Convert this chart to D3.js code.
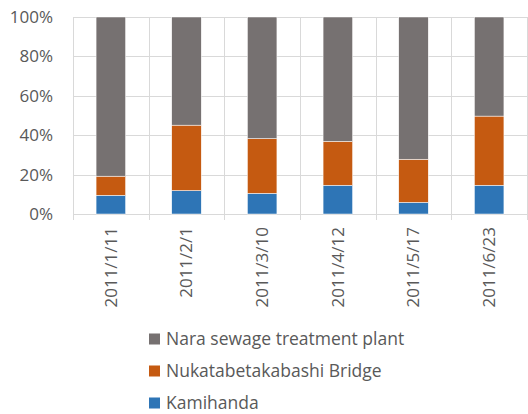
<!DOCTYPE html>
<html>
<head>
<meta charset="utf-8">
<script src="https://cdn.jsdelivr.net/npm/d3@7"></script>
<style>
  body { margin: 0; background: #fff; }
  text { font-family: "Open Sans", sans-serif; fill: #595959; }
</style>
</head>
<body>
<svg id="chart" width="528" height="414"></svg>
<script>
var dates = ["2011/1/11", "2011/2/1", "2011/3/10", "2011/4/12", "2011/5/17", "2011/6/23"];
var kamihanda = [9.5, 11.9, 10.5, 14.6, 5.9, 14.6];
var nukatabe = [9.7, 33.2, 27.8, 22.3, 21.9, 35.1];
var nara = [80.8, 54.9, 61.7, 63.1, 72.2, 50.3];
var seriesNames = ["Kamihanda", "Nukatabetakabashi Bridge", "Nara sewage treatment plant"];
var seriesColors = ["#2e75b6", "#c55a11", "#767171"];
var yTicks = [0, 0.2, 0.4, 0.6, 0.8, 1];

var svg = d3.select("#chart");
var plotLeft = 73, plotRight = 527, plotTop = 17, plotBottom = 214;

var rows = dates.map(function (d, i) {
    return { date: d, k: kamihanda[i], n: nukatabe[i], s: nara[i] };
});

var stack = d3.stack().keys(["k", "n", "s"]).offset(d3.stackOffsetExpand);
var layers = stack(rows);

var x = d3.scaleBand().domain(dates).range([plotLeft, plotRight]).paddingInner(0).paddingOuter(0);
var y = d3.scaleLinear().domain([0, 1]).range([plotBottom, plotTop]);

// gridlines
svg.append("g")
    .selectAll("line")
    .data(yTicks)
    .enter().append("line")
    .attr("x1", plotLeft).attr("x2", plotRight)
    .attr("y1", function (d) { return Math.round(y(d)) + 0.5; })
    .attr("y2", function (d) { return Math.round(y(d)) + 0.5; })
    .attr("stroke", "#d9d9d9");

var bounds = dates.map(function (d) { return x(d); }).concat([plotRight]);
svg.append("g")
    .selectAll("line")
    .data(bounds)
    .enter().append("line")
    .attr("x1", function (d) { return Math.round(d) + 0.5; })
    .attr("x2", function (d) { return Math.round(d) + 0.5; })
    .attr("y1", plotTop).attr("y2", plotBottom + 6)
    .attr("stroke", "#d9d9d9");

// bars
var barW = x.bandwidth() * 0.39;
svg.append("g")
    .selectAll("g")
    .data(layers)
    .enter().append("g")
    .attr("fill", function (d, i) { return seriesColors[i]; })
    .selectAll("rect")
    .data(function (d) { return d; })
    .enter().append("rect")
    .attr("x", function (d) { return x(d.data.date) + (x.bandwidth() - barW) / 2; })
    .attr("width", barW)
    .attr("y", function (d) { return y(d[1]); })
    .attr("height", function (d) { return y(d[0]) - y(d[1]); })
    .attr("stroke", "#fff")
    .attr("stroke-width", 0.5);

// y axis labels
svg.append("g")
    .selectAll("text")
    .data(yTicks)
    .enter().append("text")
    .attr("x", 53)
    .attr("y", function (d) { return y(d); })
    .attr("dy", "0.35em")
    .attr("text-anchor", "end")
    .style("font-size", "17px")
    .text(d3.format(".0%"));

// x axis labels
svg.append("g")
    .selectAll("text")
    .data(dates)
    .enter().append("text")
    .attr("transform", function (d) {
        return "translate(" + (x(d) + x.bandwidth() / 2) + "," + 227 + ") rotate(-90)";
    })
    .attr("dy", "0.35em")
    .attr("text-anchor", "end")
    .style("font-size", "17px")
    .text(function (d) { return d; });

// legend
var legendOrder = [2, 1, 0];
var legend = svg.append("g")
    .selectAll("g")
    .data(legendOrder)
    .enter().append("g")
    .attr("transform", function (d, i) { return "translate(149," + (339 + i * 32) + ")"; });

legend.append("rect")
    .attr("x", 0).attr("y", -5.5)
    .attr("width", 11).attr("height", 11)
    .attr("fill", function (d) { return seriesColors[d]; });

legend.append("text")
    .attr("x", 17)
    .attr("dy", "0.35em")
    .style("font-size", "17.5px")
    .text(function (d) { return seriesNames[d]; });
</script>
</body>
</html>
